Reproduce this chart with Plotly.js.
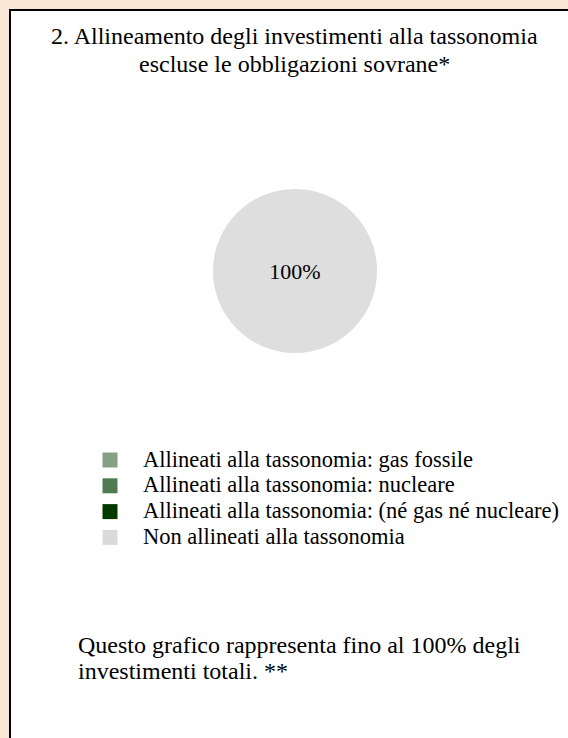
<!DOCTYPE html>
<html>
<head>
<meta charset="utf-8">
<script src="https://cdn.plot.ly/plotly-3.0.1.min.js"></script>
<style>
html,body{margin:0;padding:0;background:#FBE8D6;}
#chart{width:568px;height:738px;}
</style>
</head>
<body>
<div id="chart"></div>
<script>
const categories = [
  "Allineati alla tassonomia: gas fossile",
  "Allineati alla tassonomia: nucleare",
  "Allineati alla tassonomia: (né gas né nucleare)",
  "Non allineati alla tassonomia"
];
const values = [0, 0, 0, 100];
const colors = ["#85A083", "#4F7A53", "#003A00", "#DADADA"];
const pieColors = ["#85A083", "#4F7A53", "#003A00", "#DEDEDE"];
const titleLines = [
  "2. Allineamento degli investimenti alla tassonomia",
  "escluse le obbligazioni sovrane*"
];
const footerLines = [
  "Questo grafico rappresenta fino al 100% degli",
  "investimenti totali. **"
];

const W = 568, H = 738;
const font = "Liberation Serif, Times New Roman, serif";
const py = v => 1 - v / H;
const px = v => v / W;

const cx = 295, cy = 271, r = 82;

const trace = {
  type: "pie",
  labels: categories,
  values: values,
  sort: false,
  direction: "clockwise",
  marker: {colors: pieColors, line: {width: 0}},
  textinfo: "percent",
  textposition: "inside",
  insidetextorientation: "horizontal",
  textfont: {family: font, size: 22, color: "#000"},
  hoverinfo: "none",
  showlegend: false,
  domain: {x: [px(cx - r), px(cx + r)], y: [py(cy + r), py(cy - r)]}
};

const annotations = [];
const shapes = [{
  type: "rect", xref: "paper", yref: "paper",
  x0: px(10), x1: px(W + 20), y0: py(H + 20), y1: py(10),
  fillcolor: "#FFFFFF", line: {color: "#000", width: 2}, layer: "below"
}];

titleLines.forEach((t, i) => annotations.push({
  text: t, xref: "paper", yref: "paper", x: px(294), y: py(36 + i * 28),
  xanchor: "center", yanchor: "middle", showarrow: false,
  font: {family: font, size: 24, color: "#000"}
}));
footerLines.forEach((t, i) => annotations.push({
  text: t, xref: "paper", yref: "paper", x: px(76), y: py(645 + i * 26),
  xanchor: "left", yanchor: "middle", showarrow: false,
  font: {family: font, size: 24, color: "#000"}
}));

// legend (drawn from categories / colors)
const legY0 = 460, legStep = 25.8, sq = 15, legSymX = 110, legTextX = 141;
categories.forEach((c, i) => {
  const yc = legY0 + i * legStep;
  shapes.push({
    type: "rect", xref: "paper", yref: "paper",
    x0: px(legSymX - sq / 2), x1: px(legSymX + sq / 2),
    y0: py(yc + sq / 2), y1: py(yc - sq / 2),
    fillcolor: colors[i], line: {width: 0}
  });
  annotations.push({
    text: c, xref: "paper", yref: "paper", x: px(legTextX), y: py(yc - 1),
    xanchor: "left", yanchor: "middle", showarrow: false,
    font: {family: font, size: 22.5, color: "#000"}
  });
});

const layout = {
  width: W, height: H,
  margin: {l: 0, r: 0, t: 0, b: 0},
  paper_bgcolor: "#FBE8D6",
  plot_bgcolor: "#FBE8D6",
  showlegend: false,
  shapes: shapes,
  annotations: annotations
};

Plotly.newPlot("chart", [trace], layout, {displayModeBar: false, staticPlot: true});
</script>
</body>
</html>
